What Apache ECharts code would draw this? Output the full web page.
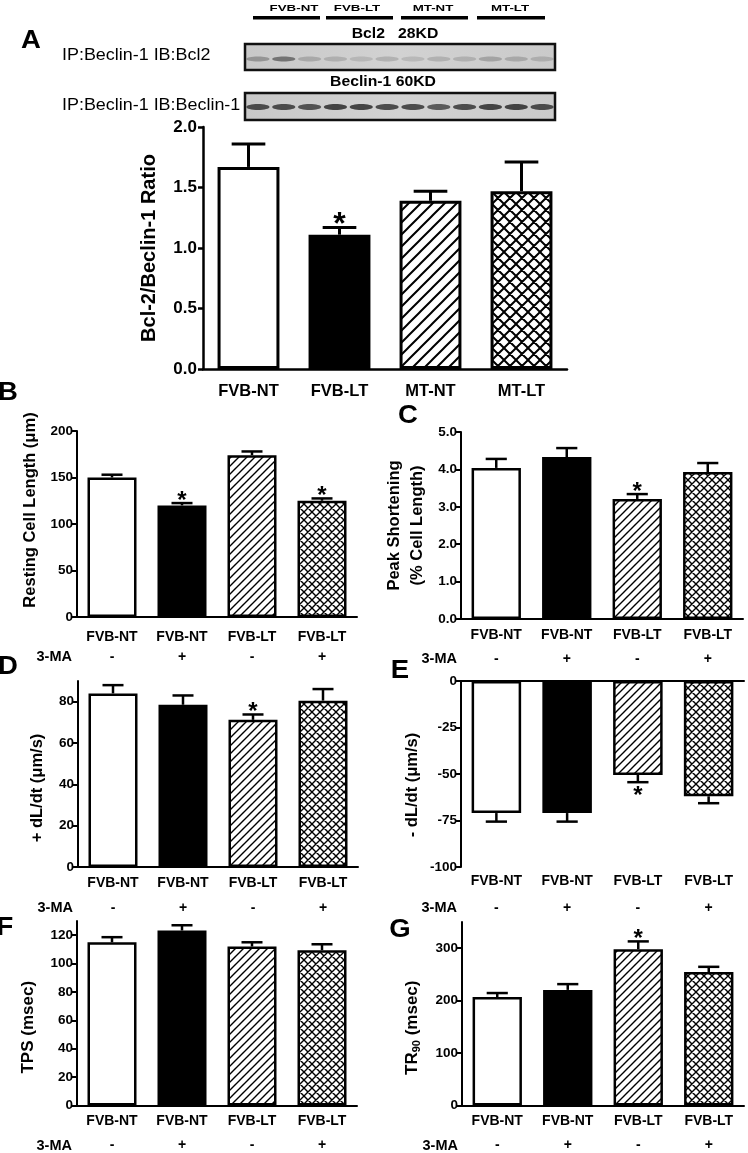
<!DOCTYPE html>
<html><head><meta charset="utf-8">
<script src="https://cdn.jsdelivr.net/npm/echarts@6/dist/echarts.min.js"></script>
<style>html,body{margin:0;padding:0;background:#fff}#c{width:748px;height:1153px}</style>
</head><body><div id="c"></div>
<script>
// ---------------- DATA ----------------
const catsA = ['FVB-NT','FVB-LT','MT-NT','MT-LT'];
const ratioMean = [1.67,1.11,1.39,1.47];
const ratioSem  = [0.19,0.06,0.08,0.24];
const ratioStar = [0,1,0,0];
const ticksRatio = [0,0.5,1.0,1.5,2.0];

const catsMA = ['FVB-NT','FVB-NT','FVB-LT','FVB-LT'];
const maSigns = ['-','+','-','+'];

const restLenMean = [150,120,174,125];
const restLenSem  = [3,2.5,4,2.5];
const restLenStar = [0,1,0,1];

const peakShortMean = [4.04,4.33,3.21,3.93];
const peakShortSem  = [0.24,0.24,0.13,0.24];
const peakShortStar = [0,0,1,0];

const plusDlMean = [84,78.5,71.2,80.5];
const plusDlSem  = [4,4.5,2.6,5.6];
const plusDlStar = [0,0,1,0];
const ticksPlusDl = [0,20,40,60,80];

const minusDlMean = [-71,-71,-50.5,-62];
const minusDlSem  = [4.6,4.6,3.9,3.7];
const minusDlStar = [0,0,1,0];

const tpsMean = [115,123.3,112,109.4];
const tpsSem  = [3.6,3.7,3,4.2];
const tpsStar = [0,0,0,0];
const ticksTps = [0,20,40,60,80,100,120];

const tr90Mean = [207,220.5,298,254.5];
const tr90Sem  = [7.5,11,15,10];
const tr90Star = [0,0,1,0];
const ticksTr90 = [0,100,200,300];

const blotLanes = ['FVB-NT','FVB-LT','MT-NT','MT-LT'];
const bcl2Band = [0.45,0.75,0.3,0.25,0.2,0.25,0.2,0.25,0.25,0.35,0.3,0.25];
const beclinBand = [0.8,0.8,0.75,0.85,0.85,0.8,0.8,0.7,0.8,0.85,0.85,0.8];

// ---------------- STYLE ----------------
const FF = "'Liberation Sans', Arial, Helvetica, sans-serif";

function pattern(s, lw, cross){
  const c = document.createElement('canvas'); c.width = s; c.height = s;
  const g = c.getContext('2d');
  g.fillStyle = '#fff'; g.fillRect(0,0,s,s);
  g.strokeStyle = '#000'; g.lineWidth = lw;
  g.beginPath();
  g.moveTo(-2, s+2); g.lineTo(s+2, -2);
  g.moveTo(-2, 2); g.lineTo(2, -2);
  g.moveTo(s-2, s+2); g.lineTo(s+2, s-2);
  if (cross){
    g.moveTo(-2,-2); g.lineTo(s+2,s+2);
    g.moveTo(s-2,-2); g.lineTo(s+2,2);
    g.moveTo(-2,s-2); g.lineTo(2,s+2);
  }
  g.stroke();
  return {image: c, repeat: 'repeat'};
}
const fillsA = ['#ffffff','#000000', pattern(12,2,false), pattern(12,2,true)];
const fillsS = ['#ffffff','#000000', pattern(8,1.4,false), pattern(8,1.4,true)];

const grids=[], xAxes=[], yAxes=[], series=[];

function addPanel(o){
  const gi = grids.length;
  const big = !!o.big;
  grids.push({left:o.left, top:o.top, width:o.width, height:o.height});
  const axW = big ? 2.5 : 2;
  const lblFont = big ? 16.5 : 14;
  const lineStyle = {color:'#000', width:axW};
  const labelBase = {color:'#000', fontWeight:'bold', fontFamily:FF, fontSize:lblFont};
  const xi = xAxes.length;
  if (!o.neg){
    xAxes.push({type:'category', gridIndex:gi, data:o.cats, position:'bottom',
      axisLine:{onZero:false, lineStyle}, axisTick:{alignWithLabel:true, length:5, lineStyle:{color:'#000',width:axW}},
      axisLabel:Object.assign({margin:o.lblMargin, verticalAlign:'middle', interval:0}, labelBase)});
  } else {
    xAxes.push({type:'category', gridIndex:gi, data:o.cats, position:'top',
      axisLine:{onZero:false, lineStyle}, axisTick:{show:false}, axisLabel:{show:false}});
    xAxes.push({type:'category', gridIndex:gi, data:o.cats, position:'bottom',
      axisLine:{onZero:false, show:false}, axisTick:{show:false},
      axisLabel:Object.assign({margin:o.lblMargin, verticalAlign:'middle', interval:0}, labelBase)});
  }
  if (o.signs){
    xAxes.push({type:'category', gridIndex:gi, data:o.signs, position:'bottom', offset:o.signOffset,
      axisLine:{onZero:false, show:false}, axisTick:{show:false},
      axisLabel:Object.assign({margin:0, verticalAlign:'middle', interval:0}, labelBase, {fontSize:14}),
      name:'3-MA', nameLocation:'start', nameGap:o.maGap,
      nameTextStyle:{color:'#000', fontWeight:'bold', fontFamily:FF, fontSize:14.5, verticalAlign:'middle', align:'right'}});
  }
  const yLabel = {color:'#000', fontWeight:'bold', fontFamily:FF, fontSize: big?17:13.5, margin: big?6:4};
  if (o.fmt) yLabel.formatter = o.fmt;
  const yTick = {length:5, lineStyle:{color:'#000', width:axW}};
  if (o.ticks){ yLabel.customValues = o.ticks; yTick.customValues = o.ticks; }
  yAxes.push({type:'value', gridIndex:gi, min:o.min, max:o.max, interval:o.interval,
    axisLine:{show:true, onZero:false, lineStyle}, axisTick:Object.assign({show:true}, yTick),
    axisLabel:yLabel, splitLine:{show:false},
    name:o.yName, nameLocation:'middle', nameGap:o.yGap,
    nameTextStyle:Object.assign({color:'#000', fontWeight:'bold', fontFamily:FF, fontSize:o.yFont||16, padding:o.yPad||0}, o.yRich?{rich:o.yRich}:{}, o.yLH?{lineHeight:o.yLH}:{})});
  const fills = big ? fillsA : fillsS;
  series.push({type:'bar', xAxisIndex:xi, yAxisIndex:gi, barCategoryGap:o.gap||'30%', silent:true,
    itemStyle:{borderColor:'#000', borderWidth: big?3:2.5},
    data:o.mean.map((v,i)=>({value:v, itemStyle:{color:fills[i]}}))});
  const lw = big ? 3 : 2.5;
  const capFrac = big ? 0.37 : 0.3;
  const sFont = big ? 32 : 24;
  series.push({type:'custom', xAxisIndex:xi, yAxisIndex:gi, z:5, silent:true,
    encode:{x:0, y:1},
    data:o.mean.map((v,i)=>[i, v, o.sem[i], o.star[i]]),
    renderItem:function(params, api){
      const i=api.value(0), m=api.value(1), s=api.value(2), st=api.value(3);
      const end = m>=0 ? m+s : m-s;
      const p0 = api.coord([i,m]), p1 = api.coord([i,end]);
      const half = api.size([1,0])[0]*capFrac/2;
      const ch = [
        {type:'line', shape:{x1:p0[0],y1:p0[1],x2:p1[0],y2:p1[1]}, style:{stroke:'#000', lineWidth:lw}},
        {type:'line', shape:{x1:p1[0]-half,y1:p1[1],x2:p1[0]+half,y2:p1[1]}, style:{stroke:'#000', lineWidth:lw}}
      ];
      if (st){
        ch.push({type:'text', style:{text:'*', x:p1[0], y: m>=0 ? p1[1]-2 : p1[1]+14,
          align:'center', textAlign:'center', verticalAlign:'middle', textVerticalAlign:'middle',
          font:'bold '+sFont+'px '+FF, fill:'#000'}});
      }
      return {type:'group', children:ch};
    }});
}

// Panel A
addPanel({big:true, left:203, top:127, width:364, height:242, cats:catsA, lblMargin:22,
  min:0, max:2, interval:0.5, fmt:v=>v.toFixed(1), gap:'32%',
  yName:'Bcl-2/Beclin-1 Ratio', yGap:44, yFont:20,
  mean:ratioMean, sem:ratioSem, star:ratioStar});
// Panel B
addPanel({left:77, top:431, width:280, height:186, cats:catsMA, lblMargin:20, signs:maSigns, signOffset:40, maGap:5,
  min:0, max:200, interval:50,
  yName:'Resting Cell Length (μm)', yGap:38, yFont:16.5, yPad:[0,0,0,28],
  mean:restLenMean, sem:restLenSem, star:restLenStar});
// Panel C
addPanel({left:461, top:432, width:282, height:187, cats:catsMA, lblMargin:16, signs:maSigns, signOffset:40, maGap:4,
  min:0, max:5, interval:1, fmt:v=>v.toFixed(1),
  yName:'Peak Shortening\n(% Cell Length)', yGap:32, yFont:16.5, yLH:23,
  mean:peakShortMean, sem:peakShortSem, star:peakShortStar});
// Panel D
addPanel({left:78, top:681, width:280, height:186, cats:catsMA, lblMargin:16, signs:maSigns, signOffset:41, maGap:5,
  min:0, max:90, interval:10, ticks:ticksPlusDl,
  yName:'+ dL/dt (μm/s)', yGap:32, yFont:16.5, yPad:[0,28,0,0],
  mean:plusDlMean, sem:plusDlSem, star:plusDlStar});
// Panel E
addPanel({neg:true, left:461, top:681, width:283, height:186, cats:catsMA, lblMargin:14, signs:maSigns, signOffset:41, maGap:4,
  min:-100, max:0, interval:25,
  yName:'- dL/dt (μm/s)', yGap:40, yFont:16.5, yPad:[0,22,0,0],
  mean:minusDlMean, sem:minusDlSem, star:minusDlStar});
// Panel F
addPanel({left:77, top:921, width:280, height:186, cats:catsMA, lblMargin:16, signs:maSigns, signOffset:40, maGap:5,
  min:0, max:130, interval:10, ticks:ticksTps,
  yName:'TPS (msec)', yGap:40, yFont:17, yPad:[0,28,0,0],
  mean:tpsMean, sem:tpsSem, star:tpsStar});
// Panel G
addPanel({left:462, top:922, width:282, height:185, cats:catsMA, lblMargin:16, signs:maSigns, signOffset:40, maGap:4,
  min:0, max:350, interval:50, ticks:ticksTr90,
  yName:'{n|TR}{s|90}{n| (msec)}', yGap:40, yFont:17, yPad:[0,28,0,0],
  yRich:{n:{fontSize:17, fontWeight:'bold', fontFamily:FF, color:'#000'}, s:{fontSize:11, fontWeight:'bold', fontFamily:FF, color:'#000', verticalAlign:'bottom', padding:[8,0,0,0]}},
  mean:tr90Mean, sem:tr90Sem, star:tr90Star});

// ---------------- GRAPHIC (blot + panel letters) ----------------
const graphic = [];
function txt(x, y, t, size, weight, sx, align){
  graphic.push({type:'text', x:x, y:y, scaleX:sx||1, silent:true,
    style:{text:t, x:0, y:0, align:align||'center', textAlign:align||'center', verticalAlign:'middle', textVerticalAlign:'middle',
      font:(weight||'bold')+' '+size+'px '+FF, fill:'#000'}});
}
// panel letters
[['A',31,41],['B',8,393],['C',408,416],['D',8,667],['E',400,671],['F',5,928],['G',400,930]].forEach(l=>txt(l[1],l[2],l[0],25,'bold',1.1));

// blot lane headers
const laneCenters = [294,357,433,510];
const laneLines = [[253,320],[326,393],[401,468],[477,545]];
blotLanes.forEach((n,k)=>{
  txt(laneCenters[k], 8, n, 9.5, 'bold', 1.4);
  graphic.push({type:'rect', silent:true, shape:{x:laneLines[k][0], y:16, width:laneLines[k][1]-laneLines[k][0], height:3.5}, style:{fill:'#000'}});
});
txt(395, 34, 'Bcl2   28KD', 15, 'bold', 1.05);
txt(383, 82, 'Beclin-1 60KD', 15, 'bold', 1.05);
txt(62, 56, 'IP:Beclin-1 IB:Bcl2', 16, 'normal', 1.12, 'left');
txt(62, 106, 'IP:Beclin-1 IB:Beclin-1', 16, 'normal', 1.12, 'left');

function blot(y, h, bands, bandY, bandRy, dark){
  graphic.push({type:'rect', silent:true, shape:{x:245, y:y, width:310, height:h},
    style:{fill:{type:'linear', x:0, y:0, x2:1, y2:0, colorStops:[{offset:0,color:'#c8c8c8'},{offset:0.5,color:'#d2d2d2'},{offset:1,color:'#cacaca'}]}, stroke:'#111', lineWidth:2.5}});
  const lw = 310/12;
  bands.forEach((a,k)=>{
    graphic.push({type:'ellipse', silent:true, shape:{cx:245+lw*(k+0.5), cy:bandY, rx:lw*0.45, ry:bandRy},
      style:{fill:dark, opacity:a}});
  });
}
blot(44, 26, bcl2Band, 59, 2.5, '#555');
blot(93, 27, beclinBand, 107, 3, '#2a2a2a');

const chart = echarts.init(document.getElementById('c'), null, {renderer:'canvas'});
chart.setOption({animation:false, backgroundColor:'#fff', grid:grids, xAxis:xAxes, yAxis:yAxes, series:series, graphic:graphic});
</script></body></html>
